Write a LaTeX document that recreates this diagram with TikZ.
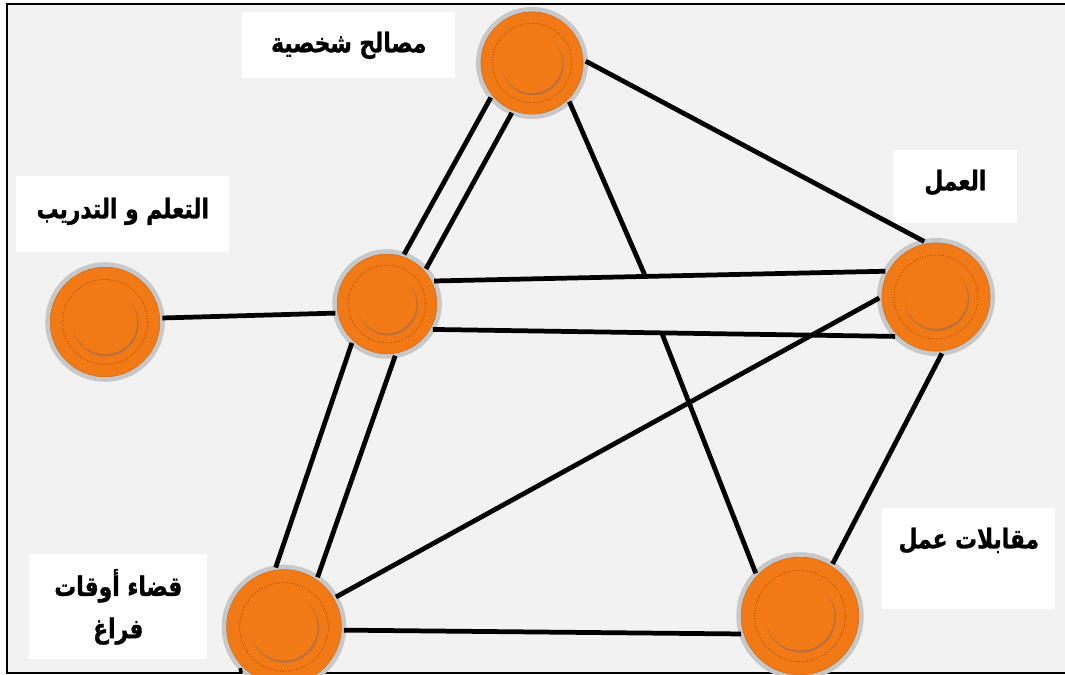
\documentclass[tikz,border=0pt]{standalone}
\usepackage{fontspec}
\newfontfamily\arabicfont[Script=Arabic,FakeStretch=0.8,BoldFeatures={FakeBold=1}]{DejaVu Sans}
\TeXXeTstate=1

\begin{document}
\begin{tikzpicture}[x=0.02cm,y=-0.02cm,
    knob/.style={circle,draw=knobrim,line width=2.6pt,fill=knobface,minimum size=#1,inner sep=0pt,outer sep=0pt,
      path picture={
        \draw[knobface!82!black,line width=1.6pt] (path picture bounding box.center) circle[radius=0.5*#1-0.8pt];
        \draw[knobdark,densely dotted,line width=0.5pt] (path picture bounding box.center) circle[radius=0.37*#1];
        \fill[knobdark!80] ([shift={(0.5pt,-0.9pt)}]path picture bounding box.center) circle[radius=0.285*#1];
        \fill[knobface] (path picture bounding box.center) circle[radius=0.28*#1];
      }},
    link/.style={line width=2.7pt},
    tag/.style={fill=white,inner sep=0pt,anchor=north west,font=\arabicfont\bfseries\fontsize{15.5}{24}\selectfont}]
    \definecolor{knobface}{RGB}{242,122,22}
    \definecolor{knobdark}{RGB}{168,78,10}
    \definecolor{knobrim}{RGB}{200,200,200}
    \definecolor{canvasgray}{RGB}{242,242,242}
    \useasboundingbox (0,0) rectangle (1065,675);
    \fill[white] (0,0) rectangle (1065,675);
    \filldraw[fill=canvasgray,draw=black,line width=1.4pt] (7,4) rectangle (1080,673);
    \node[tag,minimum width=4.26cm,text height=0.8cm,text depth=0.52cm] (tPers) at (242,12) {\beginR مصالح شخصية\endR};
    \node[tag,minimum width=4.26cm,text height=0.84cm,text depth=0.68cm] (tLearn) at (16,176) {\beginR التعلم و التدريب\endR};
    \node[tag,minimum width=2.48cm,text height=0.8cm,text depth=0.66cm] (tWork) at (893,150) {\beginR العمل\endR};
    \node[tag,minimum width=3.46cm,text height=0.8cm,text depth=1.22cm] (tInterview) at (882,508) {\beginR مقابلات عمل\endR};
    \node[tag,minimum width=3.56cm,minimum height=2.1cm,align=center] (tLeisure) at (29,554) {\beginR قضاء أوقات\endR\\\beginR فراغ\endR};
    \node[knob=2.15cm] (pers) at (532,63) {};
    \node[knob=2.1cm] (hub) at (387,304) {};
    \node[knob=2.3cm] (learn) at (105,322) {};
    \node[knob=2.27cm] (work) at (936,297) {};
    \node[knob=2.4cm] (leisure) at (284,627) {};
    \node[knob=2.46cm] (interview) at (800,616) {};
    \coordinate (cut) at (239,671);
    \draw[link] (learn.4) -- (hub.190);
    \draw[link] (pers.220) -- (hub.71);
    \draw[link] (pers.248) -- (hub.42);
    \draw[link] (pers.2) -- (work.102);
    \draw[link] (hub.26) -- coordinate[pos=0.468] (jTop) (work.153);
    \draw[link] (hub.331) -- coordinate[pos=0.495] (jLow) (work.224);
    \draw[link] (pers.314) -- (jTop);
    \draw[link] (jLow) -- (interview.136);
    \draw[link] (hub.228) -- (leisure.98);
    \draw[link] (hub.279) -- (leisure.56);
    \draw[link] (work.181) -- (leisure.30);
    \draw[link] (work.276) -- (interview.58);
    \draw[link] (leisure.357) -- (interview.197);
    \draw[link] (leisure.226) -- (cut);
\end{tikzpicture}
\end{document}
